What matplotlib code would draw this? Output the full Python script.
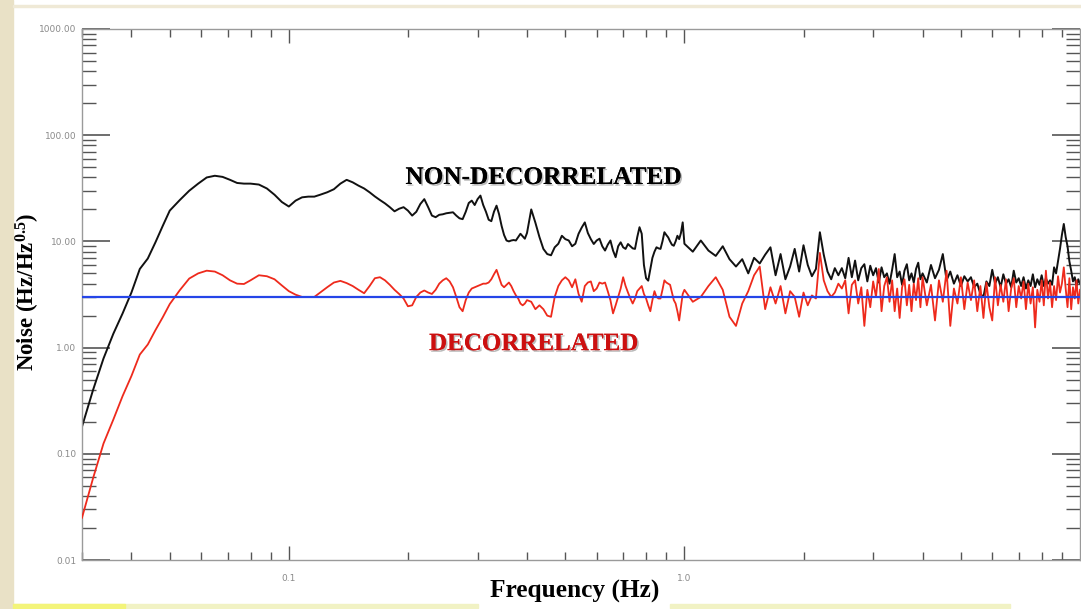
import matplotlib
matplotlib.use("Agg")
import matplotlib.pyplot as plt
import matplotlib.patheffects as pe
from matplotlib.patches import Rectangle

# frequency grid (Hz)
freq = [
    0.030, 0.032, 0.034, 0.036, 0.038, 0.040, 0.042, 0.044, 0.046, 0.048,
    0.050, 0.053, 0.056, 0.059, 0.062, 0.065, 0.068, 0.071, 0.074, 0.077,
    0.080, 0.084, 0.088, 0.092, 0.096, 0.100, 0.104, 0.108, 0.112, 0.116,
    0.120, 0.125, 0.130, 0.135, 0.140, 0.145, 0.150, 0.155, 0.160, 0.165,
    0.170, 0.175, 0.180, 0.185, 0.190, 0.195,
    0.200, 0.205, 0.210, 0.215, 0.220, 0.225, 0.230, 0.235, 0.240, 0.245,
    0.250, 0.255, 0.260, 0.265, 0.270, 0.275, 0.280, 0.285, 0.290, 0.295,
    0.300, 0.305, 0.310, 0.315, 0.320, 0.325, 0.330, 0.335, 0.340, 0.345,
    0.350, 0.355, 0.360, 0.365, 0.370, 0.375, 0.380, 0.385, 0.390, 0.395,
    0.40, 0.41, 0.42, 0.43, 0.44, 0.45, 0.46, 0.47, 0.48, 0.49,
    0.50, 0.51, 0.52, 0.53, 0.54, 0.55, 0.56, 0.57, 0.58, 0.59,
    0.60, 0.61, 0.62, 0.63, 0.64, 0.65, 0.66, 0.67, 0.68, 0.69,
    0.70, 0.71, 0.72, 0.73, 0.74, 0.75, 0.76, 0.77, 0.78, 0.79,
    0.80, 0.81, 0.82, 0.83, 0.84, 0.85, 0.86, 0.87, 0.88, 0.89,
    0.90, 0.91, 0.92, 0.93, 0.94, 0.95, 0.96, 0.97, 0.98, 0.99,
    1.00, 1.05, 1.10, 1.15, 1.20, 1.25, 1.30, 1.35, 1.40, 1.45,
    1.50, 1.55, 1.60, 1.65, 1.70, 1.75, 1.80, 1.85, 1.90, 1.95,
    2.00, 2.05, 2.10, 2.15, 2.20, 2.25, 2.30, 2.35, 2.40, 2.45,
    2.50, 2.55, 2.60, 2.65, 2.70, 2.75, 2.80, 2.85, 2.90, 2.95,
    3.00, 3.05, 3.10, 3.15, 3.20, 3.25, 3.30, 3.35, 3.40, 3.45,
    3.50, 3.55, 3.60, 3.65, 3.70, 3.75, 3.80, 3.85, 3.90, 3.95,
    4.0, 4.1, 4.2, 4.3, 4.4, 4.5, 4.6, 4.7, 4.8, 4.9,
    5.0, 5.1, 5.2, 5.3, 5.4, 5.5, 5.6, 5.7, 5.8, 5.9,
    6.0, 6.1, 6.2, 6.3, 6.4, 6.5, 6.6, 6.7, 6.8, 6.9,
    7.0, 7.1, 7.2, 7.3, 7.4, 7.5, 7.6, 7.7, 7.8, 7.9,
    8.0, 8.1, 8.2, 8.3, 8.4, 8.5, 8.6, 8.7, 8.8, 8.9,
    9.0, 9.1, 9.2, 9.3, 9.4, 9.5, 9.6, 9.7, 9.8, 9.9, 10.0,
]

noise_raw = [
    0.18, 0.40, 0.79, 1.35, 2.1, 3.3, 5.5, 6.9, 9.8, 14,
    19.5, 24.5, 30, 35, 40, 41.5, 40.5, 38, 35.5, 35,
    35, 34.3, 31.5, 27.5, 23.5, 21.3, 24.2, 26, 26.4, 26.4,
    27.5, 29, 31, 35, 38, 36, 33.5, 31.5, 29, 26.5,
    24.5, 22.8, 21, 19.2, 20.3, 21,
    19.5, 17.5, 19, 22.5, 25, 21, 17.5, 16.9, 17.8, 18.0,
    18.4, 18.6, 18.8, 17.5, 16.5, 16.2, 19, 23, 24.2, 22,
    25, 27, 22, 19, 16, 15.5, 19, 21.7, 18, 14,
    11.5, 10.2, 10.0, 10.2, 10.3, 10.2, 11.0, 11.8, 11.2, 10.6,
    12, 20, 15, 11, 8.5, 7.6, 7.4, 8.8, 9.5, 11.3,
    10.5, 10.2, 9.0, 9.5, 11.8, 13.5, 15.1, 12, 10.5, 9.45,
    10.2, 10.6, 9.0, 8.2, 9.3, 10.2, 8.2, 7.1, 9.0, 9.8,
    8.8, 8.5, 9.45, 9.0, 8.6, 8.5, 11, 13.6, 11.8, 6.0,
    4.5, 4.27, 5.5, 7.0, 8.0, 8.8, 8.6, 8.5, 10, 12.2,
    11.5, 10.9, 10, 9.3, 9.1, 10, 11.3, 10.5, 12, 15.1,
    9.5, 8.0, 10.2, 8.2, 7.3, 9.0, 6.8, 5.8, 6.8, 5.0,
    7.0, 6.2, 7.5, 8.8, 4.8, 7.6, 4.4, 5.8, 8.5, 5.2,
    9.2, 6.0, 4.7, 5.5, 12.2, 7.5, 5.2, 4.4, 5.6, 4.8,
    5.6, 4.5, 7.0, 4.6, 6.6, 4.3, 5.6, 6.1, 4.2, 5.9,
    4.8, 5.6, 4.1, 5.7, 4.6, 5.0, 4.0, 5.4, 7.6, 4.6,
    5.2, 3.9, 5.3, 6.1, 4.3, 5.0, 4.1, 5.5, 6.3, 4.4,
    5.0, 4.1, 6.0, 4.5, 5.4, 7.6, 4.3, 5.2, 4.0, 4.8,
    3.8, 4.7, 4.2, 4.6, 3.7, 4.0, 3.2, 3.0, 4.2, 3.8,
    5.4, 4.0, 4.6, 3.7, 4.9, 4.0, 4.4, 3.7, 5.3, 4.1,
    4.5, 3.8, 4.6, 3.6, 4.3, 3.8, 4.9, 3.7, 4.4, 3.9,
    4.8, 3.8, 4.5, 4.0, 4.3, 3.9, 5.7, 5.0, 6.5, 8.5,
    11.5, 14.6, 11.0, 9.0, 6.5, 5.3, 4.2, 4.6, 3.8, 4.4, 4.0,
]

noise_decorr = [
    0.025, 0.059, 0.125, 0.21, 0.35, 0.54, 0.86, 1.07, 1.46, 1.93,
    2.57, 3.47, 4.47, 5.0, 5.3, 5.2, 4.8, 4.3, 4.0, 3.97,
    4.3, 4.8, 4.7, 4.4, 3.85, 3.4, 3.15, 3.0, 3.0, 3.0,
    3.3, 3.7, 4.1, 4.25, 4.05, 3.8, 3.5, 3.25, 3.8, 4.5,
    4.6, 4.3, 3.9, 3.5, 3.2, 2.9,
    2.45, 2.5, 3.0, 3.3, 3.45, 3.3, 3.2, 3.5, 4.0, 4.3,
    4.5, 4.2, 3.7, 3.0, 2.4, 2.2, 2.8, 3.3, 3.6, 3.7,
    3.8, 3.9, 4.0, 4.0, 4.1, 4.4, 4.9, 5.4, 4.6, 3.9,
    3.7, 3.9, 4.1, 3.8, 3.4, 3.1, 2.9, 2.6, 2.5, 2.6,
    2.8, 2.7, 2.3, 2.5, 2.3, 2.0, 1.95, 3.0, 3.8, 4.3,
    4.6, 4.3, 3.7, 4.4, 3.2, 2.7, 3.8, 4.1, 4.2, 3.4,
    3.6, 4.1, 4.0, 4.1, 3.4, 2.8, 2.1, 2.5, 3.0, 3.6,
    4.6, 3.8, 3.3, 2.9, 2.6, 2.9, 3.4, 3.6, 3.8, 3.2,
    2.9, 2.5, 2.2, 2.8, 3.4, 3.0, 2.9, 2.9, 3.5, 4.3,
    4.1, 4.0, 3.9, 3.3, 2.8, 2.6, 2.2, 1.8, 2.4, 3.2,
    3.5, 2.7, 3.0, 3.8, 4.6, 3.5, 1.95, 1.6, 2.6, 3.4,
    4.8, 5.8, 2.3, 3.7, 2.6, 3.8, 2.1, 3.4, 3.0, 1.95,
    3.3, 2.5, 3.1, 2.9, 7.8, 4.3, 3.4, 3.0, 3.3, 4.0,
    3.6, 4.3, 2.1, 3.9, 4.3, 2.6, 3.7, 1.6, 3.5, 2.4,
    4.2, 3.0, 5.5, 2.2, 3.8, 4.6, 2.7, 4.3, 2.2, 3.6,
    1.9, 3.7, 4.4, 2.5, 3.9, 2.2, 4.0, 2.8, 4.5, 2.4,
    4.6, 2.5, 3.9, 1.8, 4.3, 2.7, 5.3, 1.6, 3.6, 2.6,
    4.6, 2.3, 4.1, 2.8, 4.3, 2.2, 3.8, 1.9, 4.1, 2.4,
    1.8, 4.6, 2.5, 3.9, 2.7, 4.4, 2.2, 3.6, 4.5, 2.4,
    3.8, 2.9, 4.2, 2.3, 4.0, 2.6, 3.7, 1.55, 3.5, 2.7,
    4.3, 2.5, 5.3, 2.9, 4.1, 2.4, 3.8, 2.8, 4.7, 3.3,
    4.0, 5.7, 3.6, 2.4, 4.5, 2.3, 3.7, 2.9, 4.3, 2.6, 3.5,
]

noise_level = 3.0

y_ticks = [0.01, 0.1, 1, 10, 100, 1000]
y_tick_labels = ["0.01", "0.10", "1.00", "10.00", "100.00", "1000.00"]
x_ticks = [0.1, 1.0]
x_tick_labels = ["0.1", "1.0"]

plt.rcParams["mathtext.default"] = "regular"
serif = "Liberation Serif"

fig = plt.figure(figsize=(10.81, 6.09), dpi=100)

# slide decorations
fig.patches.append(Rectangle((0, 0), 13 / 1081, 1, transform=fig.transFigure,
                             color="#e9e1c6", zorder=0))
fig.patches.append(Rectangle((13 / 1081, 1 - 7 / 609), 1, 2 / 609, transform=fig.transFigure,
                             color="#efe9d6", zorder=0))
fig.patches.append(Rectangle((13 / 1081, 1 / 609), 465 / 1081, 4 / 609, transform=fig.transFigure,
                             color="#f1f2c4", zorder=0))
fig.patches.append(Rectangle((670 / 1081, 1 / 609), 340 / 1081, 4 / 609, transform=fig.transFigure,
                             color="#f1f2c4", zorder=0))
fig.patches.append(Rectangle((13 / 1081, 1 / 609), 112 / 1081, 4 / 609, transform=fig.transFigure,
                             color="#f3f47a", zorder=0))

ax = fig.add_axes([82 / 1081, 49 / 609, 998 / 1081, 531 / 609])
ax.set_xscale("log")
ax.set_yscale("log")

ax.plot(freq, noise_raw, color="#111111", lw=1.4, zorder=2)
ax.plot(freq, noise_decorr, color="#ee2a1c", lw=1.3, zorder=3)
ax.axhline(noise_level, color="#2545e8", lw=1.6, zorder=4)

ax.set_xlim(0.03, 10)
ax.set_ylim(0.01, 1000)

ax.set_xticks(x_ticks)
ax.set_xticklabels(x_tick_labels)
ax.set_yticks(y_ticks)
ax.set_yticklabels(y_tick_labels)

for side in ax.spines.values():
    side.set_color("#9a9a9a")
    side.set_linewidth(1.0)

ax.tick_params(axis="both", which="both", direction="in", top=True, right=True,
               colors="#555555", labelcolor="#8a8a8a", labelsize=6.5)
ax.tick_params(axis="y", which="major", length=20, width=1.2, pad=4)
ax.tick_params(axis="y", which="minor", length=10, width=1.0)
ax.tick_params(axis="x", which="major", length=10, width=1.0, pad=10)
ax.tick_params(axis="x", which="minor", length=6, width=1.0)

shadow = [pe.withSimplePatchShadow(offset=(1.2, -1.2), shadow_rgbFace="#777777", alpha=0.5),
          pe.Normal()]

ax.text(0.44, 40, "NON-DECORRELATED", family=serif, weight="bold", fontsize=18.2,
        color="black", ha="center", va="center", path_effects=shadow)
ax.text(0.416, 1.09, "DECORRELATED", family=serif, weight="bold", fontsize=18,
        color="#cc1010", ha="center", va="center", path_effects=shadow)

ax.text(-0.054, 0.505, "Noise (Hz/Hz$^{0.5}$)", transform=ax.transAxes, family=serif,
        weight="bold", fontsize=16.5, rotation=90, ha="center", va="center")
ax.text(0.494, -0.06, "Frequency (Hz)", transform=ax.transAxes, family=serif,
        weight="bold", fontsize=18.3, ha="center", va="center")

fig.savefig("out.png", dpi=100)
